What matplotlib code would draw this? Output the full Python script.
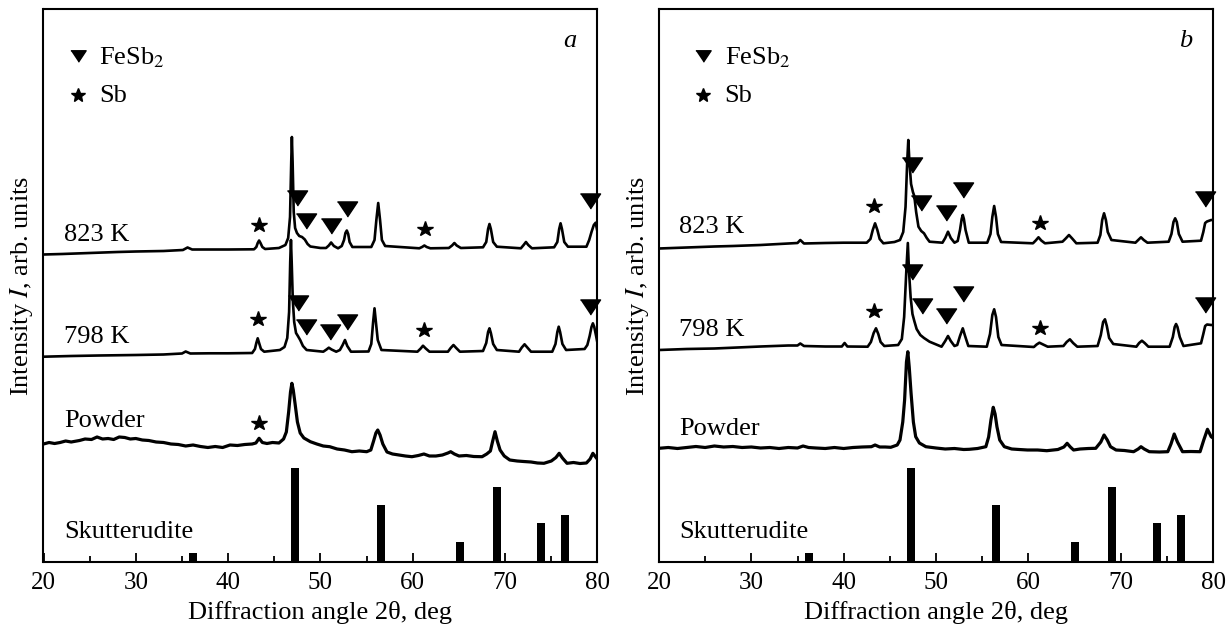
import matplotlib
matplotlib.use("Agg")
import matplotlib.pyplot as plt
import numpy as np

plt.rcParams["font.family"] = ["Liberation Serif", "DejaVu Serif"]
plt.rcParams["mathtext.fontset"] = "stix"

# ---- data (2theta in deg, intensity in arbitrary offset units) ----
# panel a
a_823 = [(20.0, 307.5), (22, 308), (25, 309), (28, 310), (30, 310.5), (33, 311), (35.1, 312), (35.6, 314.5),
         (36.1, 312.5), (38, 312.5), (40, 312.5), (42.8, 312.7), (43.05, 315), (43.2, 319), (43.35, 321.5),
         (43.5, 319), (43.7, 315), (44.0, 313), (45.5, 314), (46.2, 317), (46.5, 324), (46.7, 345),
         (46.83, 400), (46.9, 425), (46.98, 400), (47.1, 350), (47.25, 334), (47.45, 329), (47.7, 326),
         (48.0, 325), (48.3, 322.5), (48.6, 318), (48.9, 315.5), (50.0, 314), (50.6, 314), (50.9, 316.5),
         (51.15, 319.5), (51.45, 316), (51.9, 313.7), (52.3, 316), (52.55, 322), (52.7, 329), (52.85, 331.5),
         (53.0, 328), (53.15, 320), (53.45, 315), (55.5, 315), (55.85, 322), (56.05, 342), (56.25, 359),
         (56.45, 342), (56.65, 322), (57.0, 316), (60.7, 313.7), (61.0, 315), (61.25, 316.5), (61.5, 315),
         (61.9, 313.7), (63.9, 314), (64.25, 316.5), (64.5, 319), (64.75, 316.5), (65.2, 314), (67.6, 314.7),
         (67.95, 320), (68.15, 333), (68.3, 338), (68.45, 333), (68.7, 320), (69.1, 315.3), (71.7, 313.7),
         (72.0, 317), (72.25, 320), (72.5, 317), (72.9, 313.7), (75.3, 314.7), (75.65, 320), (75.85, 333),
         (76.0, 338.7), (76.15, 333), (76.4, 320), (76.8, 315.3), (78.8, 315.3), (79.1, 322), (79.35, 330),
         (79.6, 337), (79.8, 339.3), (80.0, 330)]
a_798 = [(20, 205.3), (23, 206), (26, 206.5), (30, 207), (33, 207.5), (35.0, 208.5), (35.4, 210.5), (35.9, 208.5),
         (38, 208.7), (40, 208.7), (42.6, 209), (42.9, 213), (43.05, 219), (43.2, 223.7), (43.35, 219),
         (43.55, 213), (43.9, 210.3), (45.6, 212), (46.1, 215), (46.4, 224), (46.6, 250), (46.72, 300),
         (46.8, 322), (46.88, 300), (47.0, 262), (47.15, 240), (47.35, 229), (47.55, 226), (47.8, 222),
         (48.1, 216), (48.5, 212), (50.3, 210.3), (50.65, 212.5), (50.9, 214.3), (51.2, 212.5), (51.7, 210.3),
         (52.1, 212), (52.4, 217), (52.65, 222), (52.9, 216), (53.3, 210.3), (55.2, 210.5), (55.5, 218),
         (55.7, 240), (55.85, 253.7), (56.0, 240), (56.2, 222), (56.6, 212), (60.5, 210.3), (60.85, 213.5),
         (61.1, 216.3), (61.4, 213.5), (61.8, 210.3), (63.8, 210.3), (64.1, 214), (64.4, 217), (64.7, 214),
         (65.1, 210.3), (67.6, 211), (67.95, 219), (68.15, 230), (68.3, 233.7), (68.45, 229), (68.7, 218),
         (69.1, 212), (71.5, 210.3), (71.8, 214.5), (72.1, 217.7), (72.4, 214.5), (72.8, 210.3), (75.1, 210.3),
         (75.45, 218), (75.65, 230), (75.8, 235.3), (75.95, 230), (76.2, 218), (76.6, 212), (78.6, 213),
         (78.9, 217), (79.15, 226), (79.35, 235), (79.5, 238.7), (79.65, 235), (79.85, 226), (80.0, 218.7)]
a_powder = [(20.0, 118), (20.6, 119.5), (21.2, 118.5), (21.8, 119.5), (22.4, 121), (23.0, 120), (23.9, 121.5),
            (24.5, 123), (25.2, 122.5), (25.8, 125), (26.4, 123), (27.0, 123.5), (27.6, 122.5), (28.2, 125),
            (28.8, 124.5), (29.4, 123), (30.0, 123.5), (30.7, 122), (31.4, 121.5), (32.2, 120), (33.0, 119.5),
            (33.8, 118), (34.6, 117.5), (35.4, 116), (36.2, 117), (37.0, 115.5), (37.8, 114.5), (38.6, 115.5),
            (39.4, 114.5), (40.2, 117), (41.0, 116.5), (41.8, 117.5), (42.6, 118), (43.0, 119), (43.35, 123.7),
            (43.7, 119.5), (44.2, 118.5), (44.8, 119.5), (45.5, 119), (46.0, 123), (46.3, 130), (46.55, 150),
            (46.75, 170), (46.9, 178.7), (47.05, 172), (47.25, 158), (47.5, 140), (47.8, 129), (48.2, 124),
            (48.9, 120.3), (49.6, 118), (50.3, 116), (51.0, 115.3), (51.8, 113), (52.6, 112), (53.4, 110.3),
            (54.2, 111), (55.0, 110.3), (55.45, 112), (55.75, 121), (56.0, 129), (56.2, 132), (56.45, 127),
            (56.75, 118), (57.2, 110), (57.8, 108), (58.5, 107), (59.2, 106), (59.9, 105.3), (60.6, 106.5),
            (61.2, 108), (61.8, 106), (62.5, 106), (63.2, 107), (63.8, 109), (64.1, 110.3), (64.5, 108),
            (65.0, 106), (65.8, 106.5), (66.6, 105.5), (67.5, 105.3), (68.0, 108), (68.4, 111), (68.65, 121),
            (68.9, 130.3), (69.15, 121), (69.45, 112), (69.9, 106), (70.5, 102), (71.3, 101), (72.0, 100.5),
            (72.8, 100), (73.5, 99), (74.2, 98.7), (75.0, 101), (75.5, 104.5), (75.85, 108.7), (76.2, 104),
            (76.7, 98.7), (77.4, 99.5), (78.1, 98.5), (78.8, 99), (79.2, 103), (79.5, 108.7), (79.8, 105),
            (80.0, 102.7)]
a_star = [(43.35, 337), (61.3, 333), (43.25, 243), (61.25, 232), (43.3, 138.7)]
a_tri = [(47.5, 364), (48.4, 341), (51.1, 336), (52.9, 353), (79.2, 361),
         (47.6, 259), (48.4, 235), (51.05, 230.3), (52.9, 240.3), (79.15, 255)]

# panel b
b_823 = [(20, 313.5), (23, 314.5), (26, 315.5), (28, 316), (31, 317), (34, 318.5), (35.0, 319), (35.3, 322),
         (35.7, 318.5), (38, 319), (40, 319.3), (42.5, 319.3), (42.9, 323), (43.15, 332), (43.4, 338.7),
         (43.65, 332), (43.9, 323), (44.3, 318.7), (45.5, 320), (46.1, 322), (46.45, 330), (46.7, 355),
         (46.88, 400), (47.0, 422), (47.12, 400), (47.3, 378), (47.5, 370), (47.65, 366), (47.85, 350),
         (48.1, 335.3), (48.4, 331), (48.7, 328.7), (49.0, 324), (49.3, 320.3), (50.7, 319.3), (51.0, 324),
         (51.3, 330.3), (51.6, 324), (52.0, 319.3), (52.35, 321), (52.6, 332), (52.78, 343), (52.9, 347),
         (53.02, 343), (53.2, 332), (53.55, 319.3), (55.55, 319.3), (55.9, 328), (56.1, 345), (56.3, 356),
         (56.5, 345), (56.7, 328), (57.05, 320), (60.5, 318.7), (60.8, 321.5), (61.1, 324.7), (61.4, 321.5),
         (61.8, 318.7), (63.7, 320.3), (64.05, 323.5), (64.4, 327), (64.75, 323.5), (65.2, 318.7), (67.5, 319.3),
         (67.8, 327), (68.0, 342), (68.2, 348.7), (68.4, 342), (68.6, 330), (69.0, 322), (71.6, 319.3),
         (71.9, 322), (72.2, 324.7), (72.5, 322), (72.9, 319.3), (75.2, 320.3), (75.5, 328), (75.72, 340),
         (75.9, 343.7), (76.08, 340), (76.3, 328), (76.7, 320.3), (78.7, 321.3), (78.95, 330), (79.15, 339),
         (79.35, 340.5), (79.8, 342), (80.0, 342)]
b_798 = [(20, 212), (23, 213), (26, 213.5), (28, 214.3), (31, 215.5), (34, 216.5), (35.0, 216.5), (35.3, 218.5),
         (35.7, 216), (38, 215.5), (39.8, 215.5), (40.1, 219), (40.4, 215.5), (42.6, 215.3), (42.95, 220),
         (43.25, 229), (43.5, 233.7), (43.75, 228), (44.0, 220), (44.4, 216), (45.9, 217), (46.3, 223),
         (46.55, 245), (46.78, 290), (46.95, 319), (47.08, 290), (47.25, 265), (47.45, 248), (47.65, 241),
         (47.9, 233), (48.3, 227), (48.7, 224), (49.3, 220.3), (50.6, 215.3), (51.0, 221), (51.3, 226),
         (51.6, 221), (52.0, 216), (52.3, 217), (52.6, 226), (52.9, 233.7), (53.15, 226), (53.5, 216),
         (55.5, 215.3), (55.85, 228), (56.1, 247), (56.3, 252.7), (56.5, 245), (56.75, 225), (57.1, 217),
         (60.6, 215), (60.9, 217.5), (61.2, 219.3), (61.6, 217.5), (62.1, 215.3), (63.8, 216), (64.15, 220),
         (64.5, 222.7), (64.85, 219), (65.3, 215.3), (67.5, 216), (67.85, 227), (68.1, 240), (68.3, 242.7),
         (68.5, 236), (68.75, 224), (69.2, 218), (71.7, 215.3), (72.0, 219), (72.3, 221.3), (72.6, 219),
         (73.0, 215.3), (75.3, 215.3), (75.65, 225), (75.85, 235), (76.0, 238), (76.15, 235), (76.4, 225),
         (76.8, 216), (78.7, 218.7), (78.95, 228), (79.15, 236), (79.35, 237.5), (79.8, 237), (80.0, 237)]
b_powder = [(20, 113.7), (21, 114.5), (22, 113.5), (23, 114.5), (24, 115.5), (25, 114.5), (26, 116), (27, 115),
            (28, 115.5), (29, 114.5), (30, 115), (31, 114), (32, 114.5), (33, 113.5), (34, 114.5), (35.0, 114),
            (35.6, 116), (36.2, 114.5), (37, 114), (38, 113.5), (39, 114.5), (40, 113.5), (41, 114.5), (42, 115),
            (43.0, 115.3), (43.4, 117), (43.9, 115), (44.5, 115), (45.1, 114.7), (45.8, 117), (46.1, 122),
            (46.4, 140), (46.6, 162), (46.8, 200), (46.95, 210.3), (47.1, 195), (47.3, 168.7), (47.55, 140),
            (47.8, 125.3), (48.2, 119), (48.9, 115.3), (50, 114), (51, 113), (52, 113.5), (53, 112.5),
            (53.6, 112.7), (54.5, 113.5), (55.4, 115.3), (55.7, 125), (55.95, 142), (56.2, 154.7), (56.4, 148),
            (56.6, 135.3), (56.9, 122), (57.4, 115.3), (58.2, 113), (59.0, 112.5), (59.9, 112), (61.0, 112),
            (62.0, 111.3), (63.2, 112.5), (63.85, 115), (64.2, 118.7), (64.55, 115), (64.9, 112), (65.6, 113),
            (66.5, 113.5), (67.3, 113.7), (67.85, 120), (68.2, 127), (68.55, 122), (68.9, 115.3), (69.5, 112),
            (70.4, 111.5), (71.4, 110.3), (71.9, 113), (72.2, 115.3), (72.55, 113), (73.1, 110.3), (74.2, 110),
            (75.1, 110.3), (75.45, 118), (75.8, 128), (76.15, 120), (76.7, 110.3), (77.6, 110.5), (78.6, 110.3),
            (79.0, 122), (79.4, 132.7), (79.8, 125.3), (80.0, 124)]
b_star = [(43.3, 356), (61.3, 338.7), (43.3, 251.3), (61.3, 234)]
b_tri = [(47.45, 397), (48.35, 359), (51.1, 349), (52.9, 372.5), (79.15, 362.7),
         (47.45, 290.3), (48.45, 256), (51.1, 246), (52.9, 268), (79.15, 257)]

# reference skutterudite lines
skut_pos = [36.2, 47.25, 56.5, 65.1, 69.1, 73.9, 76.5]
skut_int = [9, 94, 57, 20, 75, 39, 47]

sample_labels = ["823 K", "798 K", "Powder", "Skutterudite"]

TRI = [(-1, 0.75), (1, 0.75), (0, -0.75)]

panels = [
    dict(curves=[a_823, a_798, a_powder], star=a_star, tri=a_tri, letter="a",
         lab_y=[321, 219, 135, 24], leg_x=(23.7, 26.0)),
    dict(curves=[b_823, b_798, b_powder], star=b_star, tri=b_tri, letter="b",
         lab_y=[329, 226.5, 127, 24], leg_x=(24.8, 27.1)),
]

fig = plt.figure(figsize=(12.3, 6.32), dpi=100)
lefts = [43.5 / 1230, 659 / 1230]
for p, left in zip(panels, lefts):
    ax = fig.add_axes([left, 1 - 562 / 632, 554 / 1230, 553 / 632])
    for i, c in enumerate(p["curves"]):
        c = np.array(c)
        ax.plot(c[:, 0], c[:, 1], color="black", lw=2.3 if i == 2 else 1.9, solid_joinstyle="round")
    ax.bar(skut_pos, skut_int, width=0.87, color="black")
    s = np.array(p["star"])
    ax.plot(s[:, 0], s[:, 1], ls="none", marker="*", ms=11.5, color="black", clip_on=False)
    t = np.array(p["tri"])
    ax.plot(t[:, 0], t[:, 1], ls="none", marker=TRI, ms=14.5, color="black", clip_on=False)

    for lab, ly in zip(sample_labels, p["lab_y"]):
        ax.text(22.2, ly, lab, fontsize=19, va="baseline", ha="left")

    # legend
    mx, tx = p["leg_x"]
    ax.plot([mx], [506], marker=TRI, ms=11, color="black", ls="none")
    ax.text(tx, 498, "FeSb$_2$", fontsize=19, va="baseline")
    ax.plot([mx], [467], marker="*", ms=10, color="black", ls="none")
    ax.text(tx, 460, "Sb", fontsize=19, va="baseline")
    ax.text(77.0, 515, p["letter"], fontsize=19, style="italic", va="baseline", ha="center")

    ax.set_xlim(20, 80)
    ax.set_ylim(0, 553)
    ax.set_yticks([])
    ax.set_xticks(np.arange(20, 81, 10))
    ax.set_xticks(np.arange(25, 80, 10), minor=True)
    ax.tick_params(axis="x", which="both", direction="in", top=False, labelsize=18, pad=7, width=1.3)
    ax.tick_params(axis="x", which="major", length=6.5)
    ax.tick_params(axis="x", which="minor", length=4.3)
    for sp in ax.spines.values():
        sp.set_linewidth(1.5)
    ax.set_xlabel("Diffraction angle 2θ, deg", fontsize=19, labelpad=5.5)
    ax.text(-0.039, 0.5, "Intensity $I$, arb. units", transform=ax.transAxes, rotation=90,
            ha="center", va="center", fontsize=19)

fig.savefig("out.png", dpi=100)
